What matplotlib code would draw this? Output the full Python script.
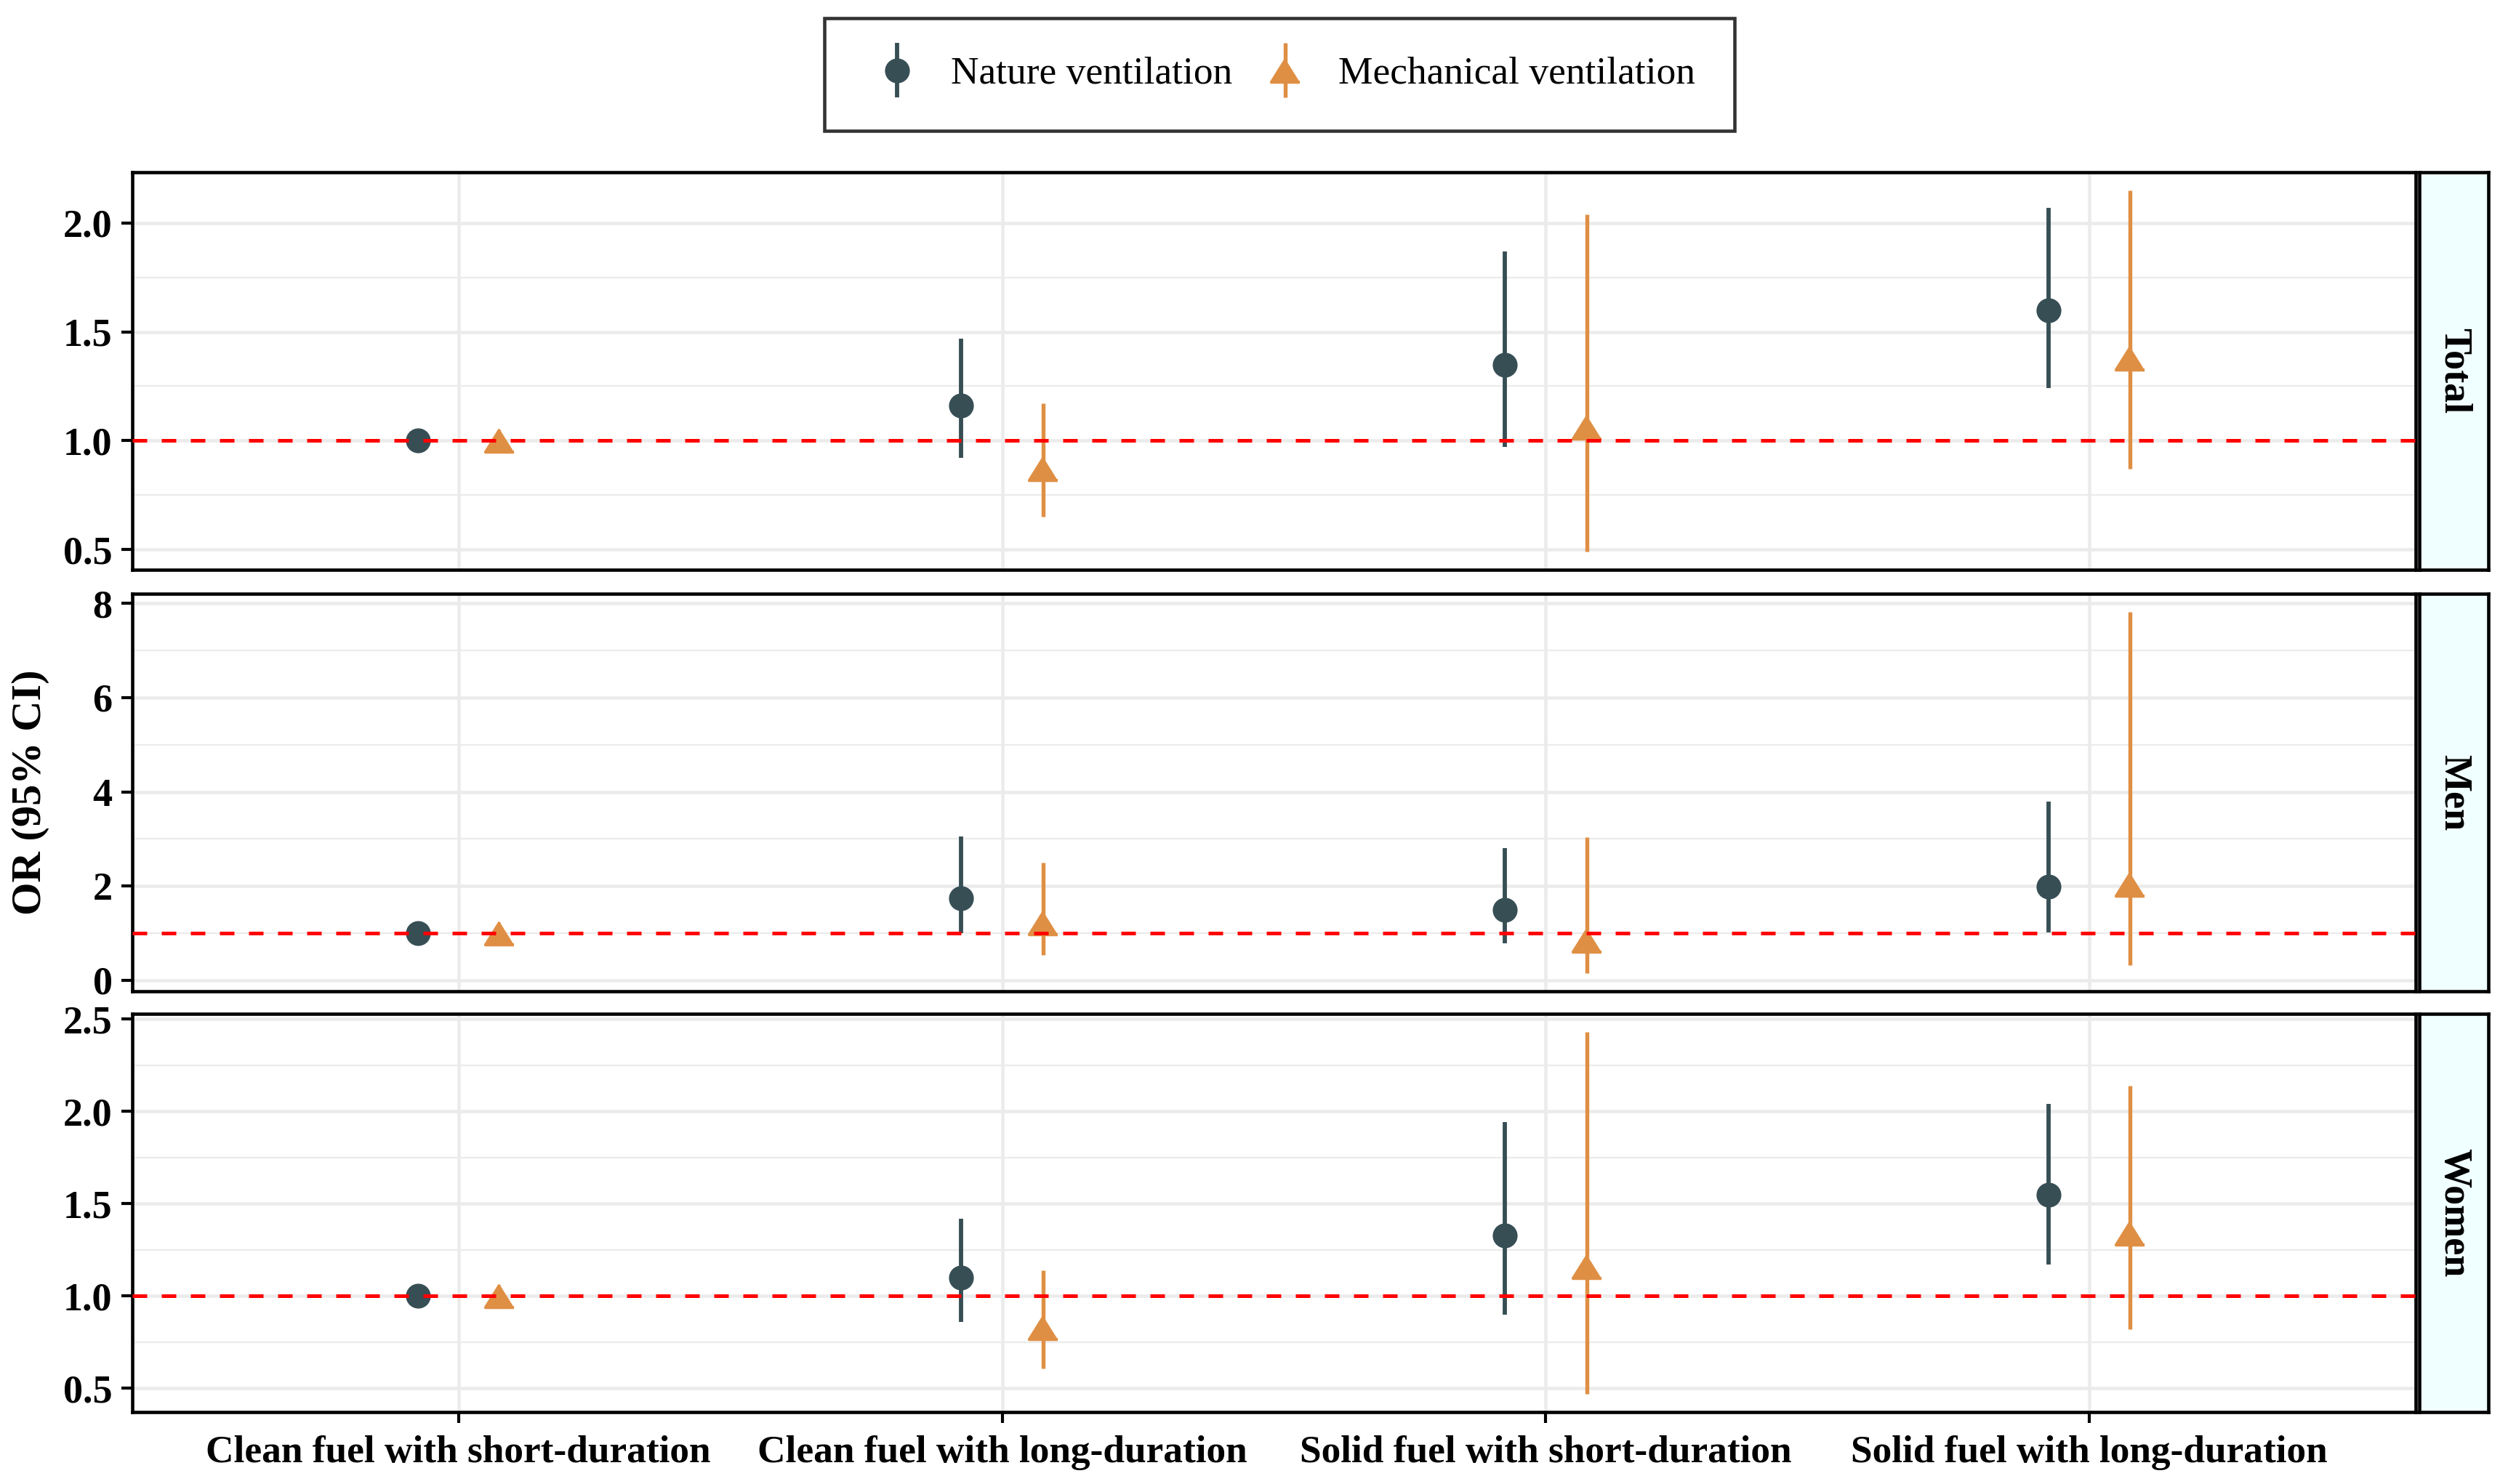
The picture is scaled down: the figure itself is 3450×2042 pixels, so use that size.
import matplotlib
matplotlib.use("Agg")
import matplotlib.pyplot as plt
import numpy as np
from matplotlib.ticker import FixedLocator
from matplotlib.container import ErrorbarContainer
from matplotlib.legend_handler import HandlerErrorbar

plt.rcParams['font.family'] = ['Liberation Serif', 'DejaVu Serif']

categories = ["Clean fuel with short-duration", "Clean fuel with long-duration",
              "Solid fuel with short-duration", "Solid fuel with long-duration"]
panels = ["Total", "Men", "Women"]
series = ["Nature ventilation", "Mechanical ventilation"]

total_nat_or = [1.00, 1.16, 1.35, 1.60]
total_nat_lo = [1.00, 0.92, 0.97, 1.24]
total_nat_hi = [1.00, 1.47, 1.87, 2.07]
total_mech_or = [1.00, 0.87, 1.06, 1.38]
total_mech_lo = [1.00, 0.65, 0.49, 0.87]
total_mech_hi = [1.00, 1.17, 2.04, 2.15]

men_nat_or = [1.00, 1.74, 1.50, 1.98]
men_nat_lo = [1.00, 1.00, 0.78, 1.02]
men_nat_hi = [1.00, 3.05, 2.81, 3.79]
men_mech_or = [1.00, 1.22, 0.85, 2.04]
men_mech_lo = [1.00, 0.54, 0.15, 0.32]
men_mech_hi = [1.00, 2.49, 3.04, 7.82]

women_nat_or = [1.00, 1.10, 1.33, 1.55]
women_nat_lo = [1.00, 0.86, 0.90, 1.17]
women_nat_hi = [1.00, 1.42, 1.94, 2.04]
women_mech_or = [1.00, 0.83, 1.16, 1.34]
women_mech_lo = [1.00, 0.61, 0.47, 0.82]
women_mech_hi = [1.00, 1.14, 2.43, 2.14]

total_ticks = [0.5, 1.0, 1.5, 2.0]
total_ticklabels = ["0.5", "1.0", "1.5", "2.0"]
men_ticks = [0, 2, 4, 6, 8]
men_ticklabels = ["0", "2", "4", "6", "8"]
women_ticks = [0.5, 1.0, 1.5, 2.0, 2.5]
women_ticklabels = ["0.5", "1.0", "1.5", "2.0", "2.5"]

panel_data = [
    (total_nat_or, total_nat_lo, total_nat_hi, total_mech_or, total_mech_lo, total_mech_hi,
     total_ticks, total_ticklabels),
    (men_nat_or, men_nat_lo, men_nat_hi, men_mech_or, men_mech_lo, men_mech_hi,
     men_ticks, men_ticklabels),
    (women_nat_or, women_nat_lo, women_nat_hi, women_mech_or, women_mech_lo, women_mech_hi,
     women_ticks, women_ticklabels),
]

col_nat = "#374E55"
col_mech = "#DF8F44"
tri = [(0, 0.8), (-1, -0.8), (1, -0.8)]

W, H = 3450, 2042
fig = plt.figure(figsize=(W / 300, H / 300), dpi=300)

left_px, right_px = 182, 3323
strip_l, strip_r = 3328, 3423
tops = [237, 817, 1395]
bots = [784, 1364, 1943]

x = np.arange(1, len(categories) + 1)
dodge = 0.075
containers = []
for i, (pn, pdat) in enumerate(zip(panels, panel_data)):
    n_or, n_lo, n_hi, m_or, m_lo, m_hi, ticks, ticklabels = pdat
    ax = fig.add_axes([left_px / W, 1 - bots[i] / H, (right_px - left_px) / W,
                       (bots[i] - tops[i]) / H])
    n_or, n_lo, n_hi = map(np.array, (n_or, n_lo, n_hi))
    m_or, m_lo, m_hi = map(np.array, (m_or, m_lo, m_hi))
    c1 = ax.errorbar(x - dodge, n_or, yerr=[n_or - n_lo, n_hi - n_or],
                     linestyle='none', marker='o',
                     color=col_nat, ms=7.2, elinewidth=1.4, capsize=0, zorder=3)
    c2 = ax.errorbar(x + dodge, m_or, yerr=[m_or - m_lo, m_hi - m_or],
                     linestyle='none', marker=tri, ms=9.4,
                     color=col_mech, elinewidth=1.3, capsize=0, zorder=3)
    if i == 0:
        containers = [c1, c2]
    ax.axhline(1.0, color='red', lw=1.2, linestyle=(0, (4, 4)), zorder=4)

    lo = min(n_lo.min(), m_lo.min())
    hi = max(n_hi.max(), m_hi.max())
    pad = 0.05 * (hi - lo)
    ax.set_ylim(lo - pad, hi + pad)
    ax.set_xlim(0.4, len(categories) + 0.6)

    ax.yaxis.set_major_locator(FixedLocator(ticks))
    ax.set_yticklabels(ticklabels, fontweight='bold', fontsize=13)
    step = ticks[1] - ticks[0]
    minors = [t + step / 2 for t in ticks[:-1]]
    ax.yaxis.set_minor_locator(FixedLocator(minors))
    ax.set_xticks(x)
    ax.grid(which='major', axis='both', color='#EBEBEB', lw=1.1, zorder=0)
    ax.grid(which='minor', axis='y', color='#EBEBEB', lw=0.55, zorder=0)
    ax.set_axisbelow(True)
    ax.tick_params(axis='y', which='major', length=3.6, width=1.0, pad=3, color='black')
    ax.tick_params(axis='y', which='minor', length=0)
    if i < 2:
        ax.tick_params(axis='x', length=0, labelbottom=False)
    else:
        ax.set_xticklabels(categories, fontweight='bold', fontsize=12.8)
        ax.tick_params(axis='x', length=3.6, width=1.0, pad=4, color='black')
    for s in ax.spines.values():
        s.set_color('black')
        s.set_linewidth(1.1)

    sax = fig.add_axes([strip_l / W, 1 - bots[i] / H, (strip_r - strip_l) / W,
                        (bots[i] - tops[i]) / H])
    sax.set_facecolor('#F0FFFF')
    sax.set_xticks([])
    sax.set_yticks([])
    for s in sax.spines.values():
        s.set_color('black')
        s.set_linewidth(1.1)
    sax.text(0.5, 0.5, pn, rotation=-90, ha='center', va='center', fontsize=13,
             fontweight='bold', transform=sax.transAxes)

fig.text(42 / W, 1 - 1090 / H, "OR (95% CI)", rotation=90, ha='center', va='center',
         fontsize=14, fontweight='bold')

leg = fig.legend(handles=containers, labels=series, loc='center',
                 bbox_to_anchor=(1760 / W, 1 - 102 / H), ncol=2, fontsize=12.8,
                 frameon=True, fancybox=False, edgecolor='black', borderpad=1.0,
                 handlelength=1.75, handletextpad=0.5, columnspacing=0.5,
                 handler_map={ErrorbarContainer: HandlerErrorbar(xerr_size=0.7)})
leg.get_frame().set_linewidth(1.1)

fig.savefig("out.png", dpi=300)
